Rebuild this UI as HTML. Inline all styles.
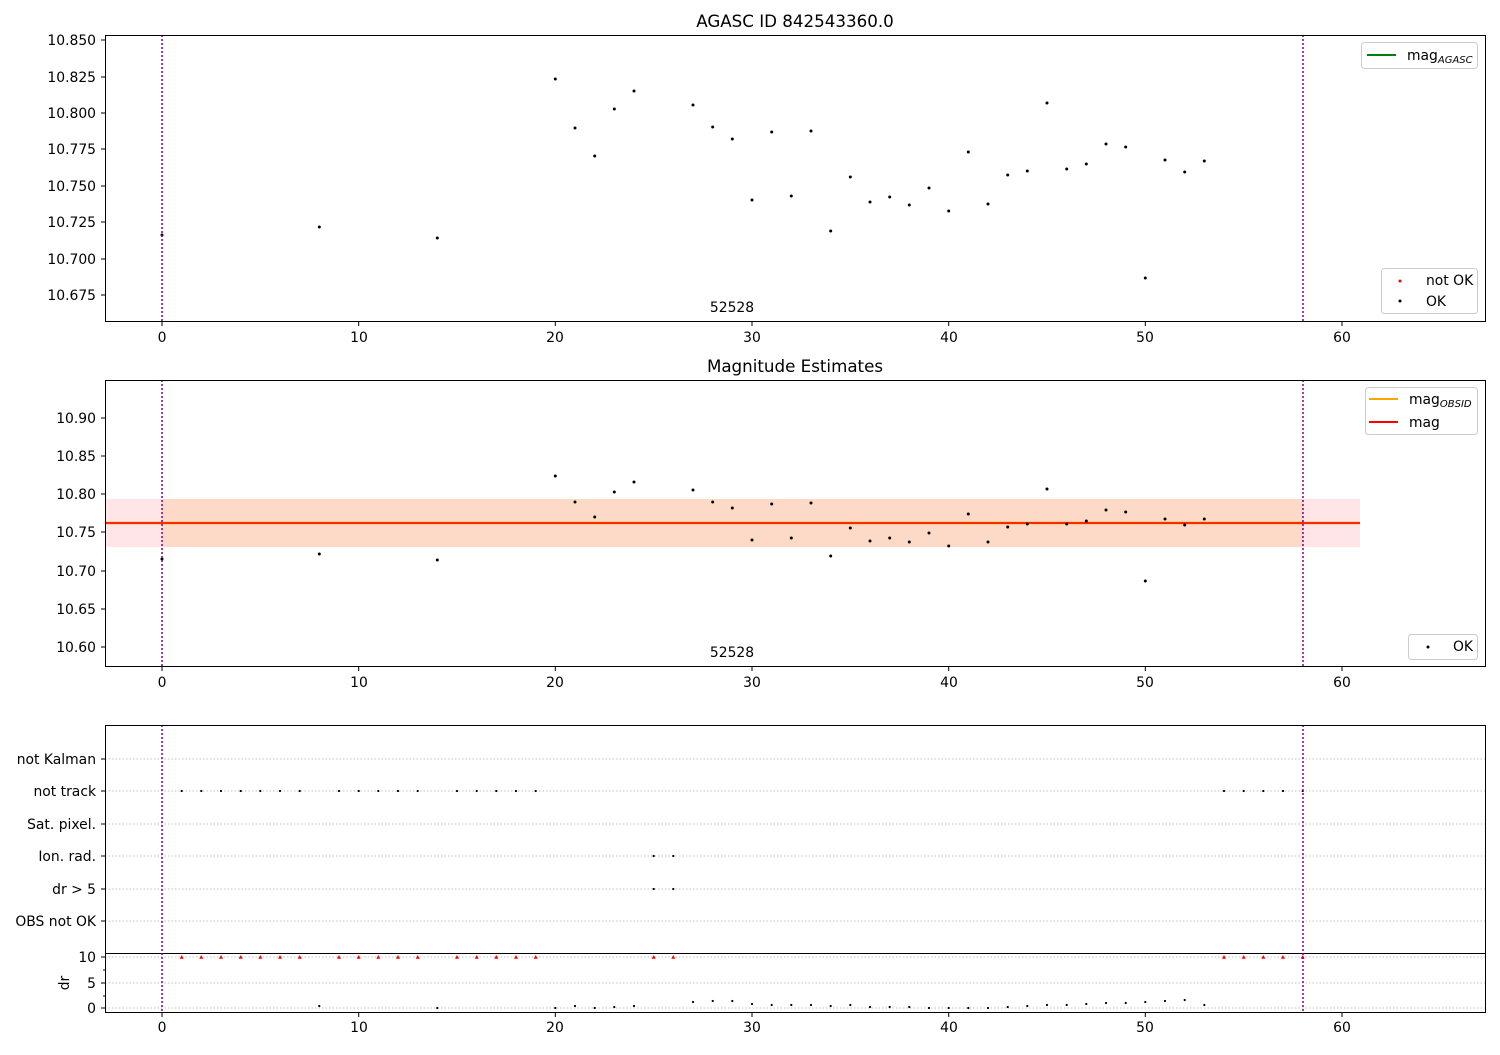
<!DOCTYPE html>
<html><head><meta charset="utf-8"><style>
body{margin:0;background:#fff}
svg{font-family:"DejaVu Sans","Liberation Sans",sans-serif;font-size:13.9px}
</style></head><body>
<svg width="1500" height="1050" xmlns="http://www.w3.org/2000/svg">
<defs>
<circle id="d" r="1.5" fill="#000"/>
<circle id="s" r="1.1" fill="#000"/>
<polygon id="t" points="-2,1.8 2,1.8 0,-2" fill="red"/>
</defs>
<rect width="1500" height="1050" fill="#fff"/>
<rect x="105" y="499" width="1255" height="48" fill="#ffe4e8"/>
<rect x="162" y="499" width="1141" height="48" fill="#fddac8"/>
<line x1="105" y1="523" x2="1360" y2="523" stroke="#ffa500" stroke-width="2.5"/>
<line x1="105" y1="523" x2="1360" y2="523" stroke="red" stroke-width="1.5"/>
<g stroke="#b0b0b0" stroke-dasharray="1.5,2" stroke-width="0.8">
<line x1="105" y1="759" x2="1485" y2="759"/><line x1="105" y1="791" x2="1485" y2="791"/>
<line x1="105" y1="824" x2="1485" y2="824"/><line x1="105" y1="856" x2="1485" y2="856"/>
<line x1="105" y1="889" x2="1485" y2="889"/><line x1="105" y1="921" x2="1485" y2="921"/>
<line x1="105" y1="957" x2="1485" y2="957"/><line x1="105" y1="983" x2="1485" y2="983"/>
<line x1="105" y1="1008" x2="1485" y2="1008"/>
</g>
<line x1="105" y1="953.5" x2="1485" y2="953.5" stroke="#000" stroke-width="1"/>
<!-- panel 1 points -->
<g>
<use href="#d" x="162" y="235"/><use href="#d" x="319.3" y="227"/><use href="#d" x="437.3" y="238"/><use href="#d" x="555.3" y="79"/><use href="#d" x="575" y="128"/><use href="#d" x="594.7" y="156"/><use href="#d" x="614.3" y="109"/><use href="#d" x="634" y="91"/><use href="#d" x="693" y="105"/><use href="#d" x="712.7" y="127"/><use href="#d" x="732.3" y="139"/><use href="#d" x="752" y="200"/><use href="#d" x="771.7" y="132"/><use href="#d" x="791.3" y="196"/><use href="#d" x="811" y="131"/><use href="#d" x="830.7" y="231"/><use href="#d" x="850.3" y="177"/><use href="#d" x="870" y="202"/><use href="#d" x="889.7" y="197"/><use href="#d" x="909.3" y="205"/><use href="#d" x="929" y="188"/><use href="#d" x="948.7" y="211"/><use href="#d" x="968.3" y="152"/><use href="#d" x="988" y="204"/><use href="#d" x="1007.7" y="175"/><use href="#d" x="1027.3" y="171"/><use href="#d" x="1047" y="103"/><use href="#d" x="1066.7" y="169"/><use href="#d" x="1086.3" y="164"/><use href="#d" x="1106" y="144"/><use href="#d" x="1125.7" y="147"/><use href="#d" x="1145.3" y="278"/><use href="#d" x="1165" y="160"/><use href="#d" x="1184.7" y="172"/><use href="#d" x="1204.3" y="161"/>
</g>
<!-- panel 2 points -->
<g>
<use href="#d" x="162" y="559"/><use href="#d" x="319.3" y="554"/><use href="#d" x="437.3" y="560"/><use href="#d" x="555.3" y="476"/><use href="#d" x="575" y="502"/><use href="#d" x="594.7" y="517"/><use href="#d" x="614.3" y="492"/><use href="#d" x="634" y="482"/><use href="#d" x="693" y="490"/><use href="#d" x="712.7" y="502"/><use href="#d" x="732.3" y="508"/><use href="#d" x="752" y="540"/><use href="#d" x="771.7" y="504"/><use href="#d" x="791.3" y="538"/><use href="#d" x="811" y="503"/><use href="#d" x="830.7" y="556"/><use href="#d" x="850.3" y="528"/><use href="#d" x="870" y="541"/><use href="#d" x="889.7" y="538"/><use href="#d" x="909.3" y="542"/><use href="#d" x="929" y="533"/><use href="#d" x="948.7" y="546"/><use href="#d" x="968.3" y="514"/><use href="#d" x="988" y="542"/><use href="#d" x="1007.7" y="527"/><use href="#d" x="1027.3" y="524"/><use href="#d" x="1047" y="489"/><use href="#d" x="1066.7" y="524"/><use href="#d" x="1086.3" y="521"/><use href="#d" x="1106" y="510"/><use href="#d" x="1125.7" y="512"/><use href="#d" x="1145.3" y="581"/><use href="#d" x="1165" y="519"/><use href="#d" x="1184.7" y="525"/><use href="#d" x="1204.3" y="519"/>
</g>
<!-- dr points -->
<g>
<use href="#s" x="319.3" y="1006"/><use href="#s" x="437.3" y="1008"/><use href="#s" x="555.3" y="1008"/><use href="#s" x="575" y="1006"/><use href="#s" x="594.7" y="1008"/><use href="#s" x="614.3" y="1007"/><use href="#s" x="634" y="1006"/><use href="#s" x="693" y="1002"/><use href="#s" x="712.7" y="1001"/><use href="#s" x="732.3" y="1001"/><use href="#s" x="752" y="1004"/><use href="#s" x="771.7" y="1005"/><use href="#s" x="791.3" y="1005"/><use href="#s" x="811" y="1005"/><use href="#s" x="830.7" y="1006"/><use href="#s" x="850.3" y="1005"/><use href="#s" x="870" y="1007"/><use href="#s" x="889.7" y="1007"/><use href="#s" x="909.3" y="1007"/><use href="#s" x="929" y="1008"/><use href="#s" x="948.7" y="1008"/><use href="#s" x="968.3" y="1008"/><use href="#s" x="988" y="1008"/><use href="#s" x="1007.7" y="1007"/><use href="#s" x="1027.3" y="1006"/><use href="#s" x="1047" y="1005"/><use href="#s" x="1066.7" y="1005"/><use href="#s" x="1086.3" y="1004"/><use href="#s" x="1106" y="1003"/><use href="#s" x="1125.7" y="1003"/><use href="#s" x="1145.3" y="1002"/><use href="#s" x="1165" y="1001"/><use href="#s" x="1184.7" y="1000"/><use href="#s" x="1204.3" y="1005"/>
</g>
<!-- not track -->
<g>
<use href="#s" x="181.7" y="791"/><use href="#s" x="201.3" y="791"/><use href="#s" x="221" y="791"/><use href="#s" x="240.7" y="791"/><use href="#s" x="260.3" y="791"/><use href="#s" x="280" y="791"/><use href="#s" x="299.7" y="791"/><use href="#s" x="339" y="791"/><use href="#s" x="358.7" y="791"/><use href="#s" x="378.3" y="791"/><use href="#s" x="398" y="791"/><use href="#s" x="417.7" y="791"/><use href="#s" x="457" y="791"/><use href="#s" x="476.7" y="791"/><use href="#s" x="496.3" y="791"/><use href="#s" x="516" y="791"/><use href="#s" x="535.7" y="791"/><use href="#s" x="1224" y="791"/><use href="#s" x="1243.7" y="791"/><use href="#s" x="1263.3" y="791"/><use href="#s" x="1283" y="791"/><use href="#s" x="1302.7" y="791"/>
<use href="#s" x="653.7" y="856"/><use href="#s" x="673.3" y="856"/><use href="#s" x="653.7" y="889"/><use href="#s" x="673.3" y="889"/>
</g>
<!-- triangles -->
<g>
<use href="#t" x="181.7" y="957"/><use href="#t" x="201.3" y="957"/><use href="#t" x="221" y="957"/><use href="#t" x="240.7" y="957"/><use href="#t" x="260.3" y="957"/><use href="#t" x="280" y="957"/><use href="#t" x="299.7" y="957"/><use href="#t" x="339" y="957"/><use href="#t" x="358.7" y="957"/><use href="#t" x="378.3" y="957"/><use href="#t" x="398" y="957"/><use href="#t" x="417.7" y="957"/><use href="#t" x="457" y="957"/><use href="#t" x="476.7" y="957"/><use href="#t" x="496.3" y="957"/><use href="#t" x="516" y="957"/><use href="#t" x="535.7" y="957"/><use href="#t" x="653.7" y="957"/><use href="#t" x="673.3" y="957"/><use href="#t" x="1224" y="957"/><use href="#t" x="1243.7" y="957"/><use href="#t" x="1263.3" y="957"/><use href="#t" x="1283" y="957"/><use href="#t" x="1302.7" y="957"/>
</g>
<g stroke="#800080" stroke-dasharray="2,2" stroke-width="1.5">
<line x1="162" y1="35" x2="162" y2="321"/><line x1="1303" y1="35" x2="1303" y2="321"/>
<line x1="162" y1="380" x2="162" y2="666"/><line x1="1303" y1="380" x2="1303" y2="666"/>
<line x1="162" y1="725" x2="162" y2="1012"/><line x1="1303" y1="725" x2="1303" y2="1012"/>
</g>
<g fill="none" stroke="#000" stroke-width="1">
<rect x="105.5" y="35.5" width="1380" height="286"/>
<rect x="105.5" y="380.5" width="1380" height="286"/>
<rect x="105.5" y="725.5" width="1380" height="287"/>
<path d="M162 322v4M358.7 322v4M555.3 322v4M752 322v4M948.7 322v4M1145.3 322v4M1342 322v4M162 667v4M358.7 667v4M555.3 667v4M752 667v4M948.7 667v4M1145.3 667v4M1342 667v4M162 1013v4M358.7 1013v4M555.3 1013v4M752 1013v4M948.7 1013v4M1145.3 1013v4M1342 1013v4M101 40h4M101 77h4M101 113h4M101 149h4M101 186h4M101 222h4M101 259h4M101 295h4M101 418h4M101 456h4M101 494h4M101 532h4M101 571h4M101 609h4M101 647h4M101 759h4M101 791h4M101 824h4M101 856h4M101 889h4M101 921h4M101 957h4M101 983h4M101 1008h4M103 970h2M103 996h2"/>
</g>
<text x="795" y="27" text-anchor="middle" font-size="16.7">AGASC ID 842543360.0</text>
<text x="795" y="372" text-anchor="middle" font-size="16.7">Magnitude Estimates</text>
<text x="732" y="312" text-anchor="middle">52528</text>
<text x="732" y="657" text-anchor="middle">52528</text>
<g text-anchor="middle">
<text x="162" y="342">0</text><text x="359" y="342">10</text><text x="555" y="342">20</text><text x="752" y="342">30</text><text x="949" y="342">40</text><text x="1145" y="342">50</text><text x="1342" y="342">60</text>
<text x="162" y="687">0</text><text x="359" y="687">10</text><text x="555" y="687">20</text><text x="752" y="687">30</text><text x="949" y="687">40</text><text x="1145" y="687">50</text><text x="1342" y="687">60</text>
<text x="162" y="1032">0</text><text x="359" y="1032">10</text><text x="555" y="1032">20</text><text x="752" y="1032">30</text><text x="949" y="1032">40</text><text x="1145" y="1032">50</text><text x="1342" y="1032">60</text>
</g>
<g text-anchor="end">
<text x="96" y="45">10.850</text><text x="96" y="82">10.825</text><text x="96" y="118">10.800</text><text x="96" y="154">10.775</text><text x="96" y="191">10.750</text><text x="96" y="227">10.725</text><text x="96" y="264">10.700</text><text x="96" y="300">10.675</text>
<text x="96" y="423">10.90</text><text x="96" y="461">10.85</text><text x="96" y="499">10.80</text><text x="96" y="537">10.75</text><text x="96" y="576">10.70</text><text x="96" y="614">10.65</text><text x="96" y="652">10.60</text>
<text x="96" y="764">not Kalman</text><text x="96" y="796">not track</text><text x="96" y="829">Sat. pixel.</text><text x="96" y="861">Ion. rad.</text><text x="96" y="894">dr &gt; 5</text><text x="96" y="926">OBS not OK</text>
<text x="96" y="962">10</text><text x="96" y="988">5</text><text x="96" y="1013">0</text>
</g>
<text x="69" y="983" text-anchor="middle" transform="rotate(-90 69 983)">dr</text>
<g>
<rect x="1361.5" y="42.5" width="116" height="26" rx="3" fill="#fff" stroke="#ccc"/>
<line x1="1367" y1="55" x2="1396" y2="55" stroke="green" stroke-width="2"/>
<text x="1407" y="60">mag<tspan font-size="10" font-style="italic" dy="3">AGASC</tspan></text>
<rect x="1381.5" y="268.5" width="96" height="45" rx="3" fill="#fff" stroke="#ccc"/>
<circle cx="1400" cy="281" r="1.5" fill="red"/><text x="1426" y="285">not OK</text>
<circle cx="1400" cy="301" r="1.5" fill="#000"/><text x="1426" y="306">OK</text>
<rect x="1365.5" y="387.5" width="112" height="47" rx="3" fill="#fff" stroke="#ccc"/>
<line x1="1369" y1="399" x2="1398" y2="399" stroke="#ffa500" stroke-width="2"/>
<text x="1409" y="404">mag<tspan font-size="10" font-style="italic" dy="3">OBSID</tspan></text>
<line x1="1369" y1="422" x2="1398" y2="422" stroke="red" stroke-width="2"/>
<text x="1409" y="427">mag</text>
<rect x="1408.5" y="634.5" width="69" height="25" rx="3" fill="#fff" stroke="#ccc"/>
<circle cx="1428" cy="647" r="1.5" fill="#000"/><text x="1453" y="651">OK</text>
</g>
</svg>
</body></html>
